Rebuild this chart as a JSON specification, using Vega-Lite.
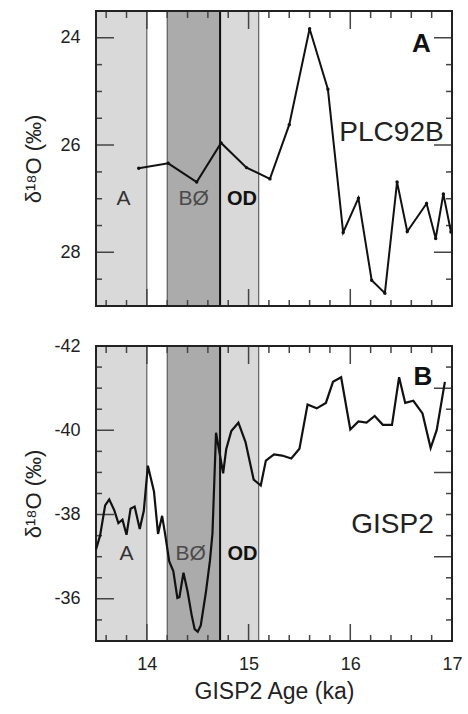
{
  "$schema": "https://vega.github.io/schema/vega-lite/v6.json",
  "padding": {"left": 22, "top": 10, "right": 8, "bottom": 4},
  "background": "white",
  "spacing": 30,
  "config": {
    "font": "Liberation Sans",
    "view": {"stroke": null},
    "axis": {
      "grid": false, "ticks": false, "tickSize": 0, "domain": false,
      "labelFontSize": 18, "labelColor": "#222", "labelOverlap": false, "labelFlush": false,
      "titleFontSize": 22, "titleFontWeight": "normal", "titleColor": "#222"
    },
    "text": {"font": "Liberation Sans"}
  },
  "datasets": {
    "plc": [
      {"age": 13.92, "d18O": 26.43}, {"age": 14.21, "d18O": 26.34}, {"age": 14.49, "d18O": 26.69},
      {"age": 14.73, "d18O": 25.96}, {"age": 14.98, "d18O": 26.42}, {"age": 15.21, "d18O": 26.63},
      {"age": 15.40, "d18O": 25.62}, {"age": 15.60, "d18O": 23.83}, {"age": 15.78, "d18O": 24.96},
      {"age": 15.93, "d18O": 27.63}, {"age": 16.08, "d18O": 26.99}, {"age": 16.21, "d18O": 28.52},
      {"age": 16.34, "d18O": 28.76}, {"age": 16.46, "d18O": 26.69}, {"age": 16.56, "d18O": 27.61},
      {"age": 16.75, "d18O": 27.09}, {"age": 16.84, "d18O": 27.74}, {"age": 16.915, "d18O": 26.91},
      {"age": 16.99, "d18O": 27.62}
    ],
    "gisp": [
      {"age": 13.50, "d18O": -37.17}, {"age": 13.54, "d18O": -37.50}, {"age": 13.59, "d18O": -38.22},
      {"age": 13.63, "d18O": -38.36}, {"age": 13.68, "d18O": -38.10}, {"age": 13.72, "d18O": -37.80},
      {"age": 13.76, "d18O": -37.88}, {"age": 13.80, "d18O": -37.52}, {"age": 13.84, "d18O": -38.14},
      {"age": 13.88, "d18O": -38.19}, {"age": 13.93, "d18O": -37.66}, {"age": 13.97, "d18O": -38.09},
      {"age": 14.01, "d18O": -39.16}, {"age": 14.07, "d18O": -38.55}, {"age": 14.11, "d18O": -37.54},
      {"age": 14.15, "d18O": -37.97}, {"age": 14.18, "d18O": -37.53}, {"age": 14.22, "d18O": -36.89},
      {"age": 14.26, "d18O": -36.66}, {"age": 14.30, "d18O": -36.02}, {"age": 14.32, "d18O": -36.04},
      {"age": 14.36, "d18O": -36.62}, {"age": 14.40, "d18O": -36.18}, {"age": 14.44, "d18O": -35.62},
      {"age": 14.47, "d18O": -35.28}, {"age": 14.50, "d18O": -35.22}, {"age": 14.53, "d18O": -35.37},
      {"age": 14.58, "d18O": -36.15}, {"age": 14.62, "d18O": -36.90}, {"age": 14.645, "d18O": -37.55},
      {"age": 14.68, "d18O": -39.94}, {"age": 14.75, "d18O": -38.98}, {"age": 14.78, "d18O": -39.55},
      {"age": 14.83, "d18O": -39.98}, {"age": 14.90, "d18O": -40.18}, {"age": 14.97, "d18O": -39.72},
      {"age": 15.05, "d18O": -38.83}, {"age": 15.12, "d18O": -38.69}, {"age": 15.17, "d18O": -39.28},
      {"age": 15.25, "d18O": -39.43}, {"age": 15.33, "d18O": -39.40}, {"age": 15.42, "d18O": -39.33},
      {"age": 15.50, "d18O": -39.56}, {"age": 15.58, "d18O": -40.61}, {"age": 15.67, "d18O": -40.52},
      {"age": 15.76, "d18O": -40.65}, {"age": 15.83, "d18O": -41.15}, {"age": 15.91, "d18O": -41.26},
      {"age": 16.00, "d18O": -40.02}, {"age": 16.08, "d18O": -40.21}, {"age": 16.16, "d18O": -40.18},
      {"age": 16.24, "d18O": -40.34}, {"age": 16.32, "d18O": -40.13}, {"age": 16.41, "d18O": -40.13},
      {"age": 16.48, "d18O": -41.26}, {"age": 16.54, "d18O": -40.65}, {"age": 16.62, "d18O": -40.70},
      {"age": 16.71, "d18O": -40.40}, {"age": 16.79, "d18O": -39.58}, {"age": 16.85, "d18O": -40.01},
      {"age": 16.93, "d18O": -41.15}
    ],
    "bands": [
      {"period": "Allerød", "start": 13.5, "end": 14.0, "shade": "light"},
      {"period": "Bølling", "start": 14.2, "end": 14.72, "shade": "dark"},
      {"period": "Older Dryas", "start": 14.72, "end": 15.1, "shade": "light"}
    ],
    "boundary": [{"age": 14.72}],
    "frame": [{"panel": "plot area"}],
    "xt": [
      {"v": 13.6, "major": false}, {"v": 13.8, "major": false}, {"v": 14, "major": true},
      {"v": 14.2, "major": false}, {"v": 14.4, "major": false}, {"v": 14.6, "major": false},
      {"v": 14.8, "major": false}, {"v": 15, "major": true}, {"v": 15.2, "major": false},
      {"v": 15.4, "major": false}, {"v": 15.6, "major": false}, {"v": 15.8, "major": false},
      {"v": 16, "major": true}, {"v": 16.2, "major": false}, {"v": 16.4, "major": false},
      {"v": 16.6, "major": false}, {"v": 16.8, "major": false}
    ],
    "ytA": [
      {"v": 24, "major": true}, {"v": 24.5, "major": false}, {"v": 25, "major": false},
      {"v": 25.5, "major": false}, {"v": 26, "major": true}, {"v": 26.5, "major": false},
      {"v": 27, "major": false}, {"v": 27.5, "major": false}, {"v": 28, "major": true},
      {"v": 28.5, "major": false}
    ],
    "ytB": [
      {"v": -42, "majorL": true, "majorR": false}, {"v": -41.5, "majorL": false, "majorR": false},
      {"v": -41, "majorL": false, "majorR": true}, {"v": -40.5, "majorL": false, "majorR": false},
      {"v": -40, "majorL": true, "majorR": false}, {"v": -39.5, "majorL": false, "majorR": false},
      {"v": -39, "majorL": false, "majorR": true}, {"v": -38.5, "majorL": false, "majorR": false},
      {"v": -38, "majorL": true, "majorR": false}, {"v": -37.5, "majorL": false, "majorR": false},
      {"v": -37, "majorL": false, "majorR": true}, {"v": -36.5, "majorL": false, "majorR": false},
      {"v": -36, "majorL": true, "majorR": false}, {"v": -35.5, "majorL": false, "majorR": false}
    ],
    "labelsA": [
      {"text": "A", "kind": "panel", "age": 16.70, "val": 24.12},
      {"text": "PLC92B", "kind": "series", "age": 16.405, "val": 25.77},
      {"text": "A", "kind": "plain", "age": 13.77, "val": 27.0},
      {"text": "BØ", "kind": "grey", "age": 14.46, "val": 27.0},
      {"text": "OD", "kind": "bold", "age": 14.935, "val": 27.0}
    ],
    "labelsB": [
      {"text": "B", "kind": "panel", "age": 16.715, "val": -41.27},
      {"text": "GISP2", "kind": "series", "age": 16.415, "val": -37.76},
      {"text": "A", "kind": "plain", "age": 13.80, "val": -37.07},
      {"text": "BØ", "kind": "grey", "age": 14.43, "val": -37.07},
      {"text": "OD", "kind": "bold", "age": 14.94, "val": -37.07}
    ]
  },
  "vconcat": [
    {
      "width": 356,
      "height": 295,
      "resolve": {"axis": {"x": "independent", "y": "independent"}},
      "layer": [
        {
          "data": {"name": "bands"},
          "mark": {"type": "rect", "stroke": "#444", "strokeWidth": 1},
          "encoding": {
            "x": {"field": "start", "type": "quantitative", "scale": {"domain": [13.5, 17], "nice": false, "zero": false}, "axis": null},
            "x2": {"field": "end"},
            "color": {"field": "shade", "type": "nominal",
              "scale": {"domain": ["light", "dark"], "range": ["#d9d9d9", "#ababab"]}, "legend": null}
          }
        },
        {
          "data": {"name": "boundary"},
          "mark": {"type": "rule", "color": "#111", "strokeWidth": 2},
          "encoding": {"x": {"field": "age", "type": "quantitative", "scale": {"domain": [13.5, 17], "nice": false, "zero": false}, "axis": null}}
        },
        {
          "data": {"name": "xt"},
          "mark": {"type": "tick", "orient": "vertical", "clip": true, "color": "#444", "thickness": 1.5, "opacity": 1},
          "encoding": {
            "x": {"field": "v", "type": "quantitative", "scale": {"domain": [13.5, 17], "nice": false, "zero": false}, "axis": null},
            "y": {"datum": 29, "type": "quantitative", "scale": {"domain": [23.5, 29], "nice": false, "zero": false, "reverse": true}, "axis": null},
            "size": {"condition": {"test": "datum.major", "value": 34}, "value": 12}
          }
        },
        {
          "data": {"name": "xt"},
          "mark": {"type": "tick", "orient": "vertical", "clip": true, "color": "#444", "thickness": 1.5, "opacity": 1},
          "encoding": {
            "x": {"field": "v", "type": "quantitative", "scale": {"domain": [13.5, 17], "nice": false, "zero": false}, "axis": null},
            "y": {"datum": 23.5, "type": "quantitative", "scale": {"domain": [23.5, 29], "nice": false, "zero": false, "reverse": true}, "axis": null},
            "size": {"condition": {"test": "datum.major", "value": 36}, "value": 14}
          }
        },
        {
          "data": {"name": "ytA"},
          "mark": {"type": "tick", "orient": "horizontal", "clip": true, "color": "#444", "thickness": 1.5, "opacity": 1},
          "encoding": {
            "y": {"field": "v", "type": "quantitative", "scale": {"domain": [23.5, 29], "nice": false, "zero": false, "reverse": true},
              "axis": {"orient": "left", "title": "δ¹⁸O (‰)", "titlePadding": 1,
                "minExtent": 50, "maxExtent": 50, "labelPadding": 16,
                "values": [24, 26, 28]}},
            "x": {"datum": 13.5, "type": "quantitative", "scale": {"domain": [13.5, 17], "nice": false, "zero": false}, "axis": null},
            "size": {"condition": {"test": "datum.major", "value": 36}, "value": 12}
          }
        },
        {
          "data": {"name": "ytA"},
          "mark": {"type": "tick", "orient": "horizontal", "clip": true, "color": "#444", "thickness": 1.5, "opacity": 1},
          "encoding": {
            "y": {"field": "v", "type": "quantitative", "scale": {"domain": [23.5, 29], "nice": false, "zero": false, "reverse": true}, "axis": null},
            "x": {"datum": 17, "type": "quantitative", "scale": {"domain": [13.5, 17], "nice": false, "zero": false}, "axis": null},
            "size": {"condition": {"test": "datum.major", "value": 36}, "value": 12}
          }
        },
        {
          "data": {"name": "frame"},
          "mark": {"type": "rect", "filled": false, "color": "#222", "strokeWidth": 2, "opacity": 1},
          "encoding": {
            "x": {"datum": 13.5, "type": "quantitative", "scale": {"domain": [13.5, 17], "nice": false, "zero": false}, "axis": null},
            "x2": {"datum": 17},
            "y": {"datum": 23.5, "type": "quantitative", "scale": {"domain": [23.5, 29], "nice": false, "zero": false, "reverse": true}, "axis": null},
            "y2": {"datum": 29}
          }
        },
        {
          "data": {"name": "plc"},
          "mark": {"type": "line", "color": "#111", "strokeWidth": 2},
          "encoding": {
            "x": {"field": "age", "type": "quantitative", "scale": {"domain": [13.5, 17], "nice": false, "zero": false}, "axis": null},
            "y": {"field": "d18O", "type": "quantitative", "scale": {"domain": [23.5, 29], "nice": false, "zero": false, "reverse": true}, "axis": null}
          }
        },
        {
          "data": {"name": "plc"},
          "mark": {"type": "point", "filled": true, "color": "#111", "size": 12, "opacity": 1},
          "encoding": {
            "x": {"field": "age", "type": "quantitative", "scale": {"domain": [13.5, 17], "nice": false, "zero": false}, "axis": null},
            "y": {"field": "d18O", "type": "quantitative", "scale": {"domain": [23.5, 29], "nice": false, "zero": false, "reverse": true}, "axis": null}
          }
        },
        {
          "data": {"name": "labelsA"},
          "transform": [{"filter": "datum.kind === 'panel'"}],
          "mark": {"type": "text", "fontSize": 26, "fontWeight": "bold", "color": "#111", "align": "center", "baseline": "middle"},
          "encoding": {
            "x": {"field": "age", "type": "quantitative", "scale": {"domain": [13.5, 17], "nice": false, "zero": false}, "axis": null},
            "y": {"field": "val", "type": "quantitative", "scale": {"domain": [23.5, 29], "nice": false, "zero": false, "reverse": true}, "axis": null},
            "text": {"field": "text"}
          }
        },
        {
          "data": {"name": "labelsA"},
          "transform": [{"filter": "datum.kind === 'series'"}],
          "mark": {"type": "text", "fontSize": 28, "color": "#222", "align": "center", "baseline": "middle"},
          "encoding": {
            "x": {"field": "age", "type": "quantitative", "scale": {"domain": [13.5, 17], "nice": false, "zero": false}, "axis": null},
            "y": {"field": "val", "type": "quantitative", "scale": {"domain": [23.5, 29], "nice": false, "zero": false, "reverse": true}, "axis": null},
            "text": {"field": "text"}
          }
        },
        {
          "data": {"name": "labelsA"},
          "transform": [{"filter": "datum.kind === 'plain'"}],
          "mark": {"type": "text", "fontSize": 21, "color": "#333", "align": "center", "baseline": "middle"},
          "encoding": {
            "x": {"field": "age", "type": "quantitative", "scale": {"domain": [13.5, 17], "nice": false, "zero": false}, "axis": null},
            "y": {"field": "val", "type": "quantitative", "scale": {"domain": [23.5, 29], "nice": false, "zero": false, "reverse": true}, "axis": null},
            "text": {"field": "text"}
          }
        },
        {
          "data": {"name": "labelsA"},
          "transform": [{"filter": "datum.kind === 'grey'"}],
          "mark": {"type": "text", "fontSize": 21, "color": "#4a4a4a", "align": "center", "baseline": "middle"},
          "encoding": {
            "x": {"field": "age", "type": "quantitative", "scale": {"domain": [13.5, 17], "nice": false, "zero": false}, "axis": null},
            "y": {"field": "val", "type": "quantitative", "scale": {"domain": [23.5, 29], "nice": false, "zero": false, "reverse": true}, "axis": null},
            "text": {"field": "text"}
          }
        },
        {
          "data": {"name": "labelsA"},
          "transform": [{"filter": "datum.kind === 'bold'"}],
          "mark": {"type": "text", "fontSize": 20, "fontWeight": "bold", "color": "#111", "align": "center", "baseline": "middle"},
          "encoding": {
            "x": {"field": "age", "type": "quantitative", "scale": {"domain": [13.5, 17], "nice": false, "zero": false}, "axis": null},
            "y": {"field": "val", "type": "quantitative", "scale": {"domain": [23.5, 29], "nice": false, "zero": false, "reverse": true}, "axis": null},
            "text": {"field": "text"}
          }
        }
      ]
    },
    {
      "width": 356,
      "height": 295,
      "resolve": {"axis": {"x": "independent", "y": "independent"}},
      "layer": [
        {
          "data": {"name": "bands"},
          "mark": {"type": "rect", "stroke": "#444", "strokeWidth": 1},
          "encoding": {
            "x": {"field": "start", "type": "quantitative", "scale": {"domain": [13.5, 17], "nice": false, "zero": false}, "axis": null},
            "x2": {"field": "end"},
            "color": {"field": "shade", "type": "nominal",
              "scale": {"domain": ["light", "dark"], "range": ["#d9d9d9", "#ababab"]}, "legend": null}
          }
        },
        {
          "data": {"name": "boundary"},
          "mark": {"type": "rule", "color": "#111", "strokeWidth": 2},
          "encoding": {"x": {"field": "age", "type": "quantitative", "scale": {"domain": [13.5, 17], "nice": false, "zero": false}, "axis": null}}
        },
        {
          "data": {"name": "xt"},
          "mark": {"type": "tick", "orient": "vertical", "clip": true, "color": "#444", "thickness": 1.5, "opacity": 1},
          "encoding": {
            "x": {"field": "v", "type": "quantitative", "scale": {"domain": [13.5, 17], "nice": false, "zero": false},
              "axis": {"orient": "bottom", "title": "GISP2 Age (ka)", "titleFontSize": 23, "titlePadding": 7,
                "labelPadding": 14, "values": [14, 15, 16, 17]}},
            "y": {"datum": -35, "type": "quantitative", "scale": {"domain": [-42, -35], "nice": false, "zero": false, "reverse": true}, "axis": null},
            "size": {"condition": {"test": "datum.major", "value": 34}, "value": 12}
          }
        },
        {
          "data": {"name": "xt"},
          "mark": {"type": "tick", "orient": "vertical", "clip": true, "color": "#444", "thickness": 1.5, "opacity": 1},
          "encoding": {
            "x": {"field": "v", "type": "quantitative", "scale": {"domain": [13.5, 17], "nice": false, "zero": false}, "axis": null},
            "y": {"datum": -42, "type": "quantitative", "scale": {"domain": [-42, -35], "nice": false, "zero": false, "reverse": true}, "axis": null},
            "size": {"condition": {"test": "datum.major", "value": 36}, "value": 14}
          }
        },
        {
          "data": {"name": "ytB"},
          "mark": {"type": "tick", "orient": "horizontal", "clip": true, "color": "#444", "thickness": 1.5, "opacity": 1},
          "encoding": {
            "y": {"field": "v", "type": "quantitative", "scale": {"domain": [-42, -35], "nice": false, "zero": false, "reverse": true},
              "axis": {"orient": "left", "title": "δ¹⁸O (‰)", "titlePadding": 1,
                "minExtent": 50, "maxExtent": 50, "labelPadding": 16,
                "values": [-42, -40, -38, -36],
                "labelExpr": "'-' + abs(datum.value)"}},
            "x": {"datum": 13.5, "type": "quantitative", "scale": {"domain": [13.5, 17], "nice": false, "zero": false}, "axis": null},
            "size": {"condition": {"test": "datum.majorL", "value": 36}, "value": 12}
          }
        },
        {
          "data": {"name": "ytB"},
          "mark": {"type": "tick", "orient": "horizontal", "clip": true, "color": "#444", "thickness": 1.5, "opacity": 1},
          "encoding": {
            "y": {"field": "v", "type": "quantitative", "scale": {"domain": [-42, -35], "nice": false, "zero": false, "reverse": true}, "axis": null},
            "x": {"datum": 17, "type": "quantitative", "scale": {"domain": [13.5, 17], "nice": false, "zero": false}, "axis": null},
            "size": {"condition": {"test": "datum.majorR", "value": 36}, "value": 12}
          }
        },
        {
          "data": {"name": "frame"},
          "mark": {"type": "rect", "filled": false, "color": "#222", "strokeWidth": 2, "opacity": 1},
          "encoding": {
            "x": {"datum": 13.5, "type": "quantitative", "scale": {"domain": [13.5, 17], "nice": false, "zero": false}, "axis": null},
            "x2": {"datum": 17},
            "y": {"datum": -42, "type": "quantitative", "scale": {"domain": [-42, -35], "nice": false, "zero": false, "reverse": true}, "axis": null},
            "y2": {"datum": -35}
          }
        },
        {
          "data": {"name": "gisp"},
          "mark": {"type": "line", "color": "#111", "strokeWidth": 2.2},
          "encoding": {
            "x": {"field": "age", "type": "quantitative", "scale": {"domain": [13.5, 17], "nice": false, "zero": false}, "axis": null},
            "y": {"field": "d18O", "type": "quantitative", "scale": {"domain": [-42, -35], "nice": false, "zero": false, "reverse": true}, "axis": null}
          }
        },
        {
          "data": {"name": "labelsB"},
          "transform": [{"filter": "datum.kind === 'series'"}],
          "mark": {"type": "text", "fontSize": 28, "color": "#222", "align": "center", "baseline": "middle"},
          "encoding": {
            "x": {"field": "age", "type": "quantitative", "scale": {"domain": [13.5, 17], "nice": false, "zero": false}, "axis": null},
            "y": {"field": "val", "type": "quantitative", "scale": {"domain": [-42, -35], "nice": false, "zero": false, "reverse": true}, "axis": null},
            "text": {"field": "text"}
          }
        },
        {
          "data": {"name": "labelsB"},
          "transform": [{"filter": "datum.kind === 'panel'"}],
          "mark": {"type": "text", "fontSize": 26, "fontWeight": "bold", "color": "#111", "align": "center", "baseline": "middle"},
          "encoding": {
            "x": {"field": "age", "type": "quantitative", "scale": {"domain": [13.5, 17], "nice": false, "zero": false}, "axis": null},
            "y": {"field": "val", "type": "quantitative", "scale": {"domain": [-42, -35], "nice": false, "zero": false, "reverse": true}, "axis": null},
            "text": {"field": "text"}
          }
        },
        {
          "data": {"name": "labelsB"},
          "transform": [{"filter": "datum.kind === 'plain'"}],
          "mark": {"type": "text", "fontSize": 21, "color": "#333", "align": "center", "baseline": "middle"},
          "encoding": {
            "x": {"field": "age", "type": "quantitative", "scale": {"domain": [13.5, 17], "nice": false, "zero": false}, "axis": null},
            "y": {"field": "val", "type": "quantitative", "scale": {"domain": [-42, -35], "nice": false, "zero": false, "reverse": true}, "axis": null},
            "text": {"field": "text"}
          }
        },
        {
          "data": {"name": "labelsB"},
          "transform": [{"filter": "datum.kind === 'grey'"}],
          "mark": {"type": "text", "fontSize": 21, "color": "#4a4a4a", "align": "center", "baseline": "middle"},
          "encoding": {
            "x": {"field": "age", "type": "quantitative", "scale": {"domain": [13.5, 17], "nice": false, "zero": false}, "axis": null},
            "y": {"field": "val", "type": "quantitative", "scale": {"domain": [-42, -35], "nice": false, "zero": false, "reverse": true}, "axis": null},
            "text": {"field": "text"}
          }
        },
        {
          "data": {"name": "labelsB"},
          "transform": [{"filter": "datum.kind === 'bold'"}],
          "mark": {"type": "text", "fontSize": 20, "fontWeight": "bold", "color": "#111", "align": "center", "baseline": "middle"},
          "encoding": {
            "x": {"field": "age", "type": "quantitative", "scale": {"domain": [13.5, 17], "nice": false, "zero": false}, "axis": null},
            "y": {"field": "val", "type": "quantitative", "scale": {"domain": [-42, -35], "nice": false, "zero": false, "reverse": true}, "axis": null},
            "text": {"field": "text"}
          }
        }
      ]
    }
  ]
}
